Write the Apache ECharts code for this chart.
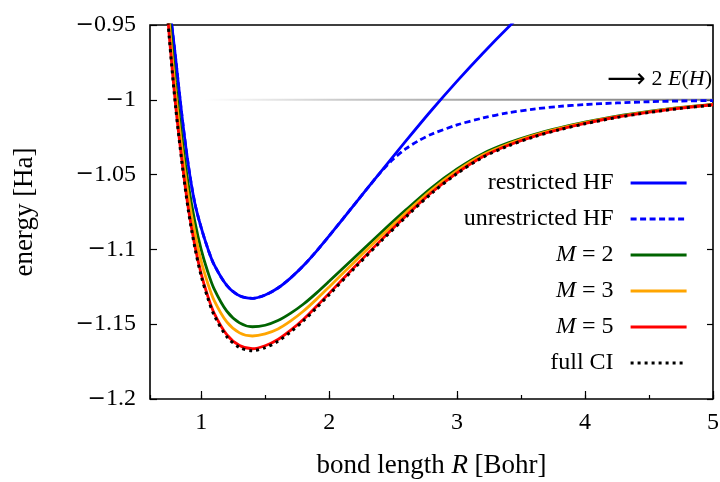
<!DOCTYPE html>
<html><head><meta charset="utf-8">
<script src="https://cdn.jsdelivr.net/npm/echarts@6/dist/echarts.min.js"></script>
<style>html,body{margin:0;padding:0;background:#fff}#c{width:720px;height:482px}</style>
</head><body><div id="c"></div>
<script>
// bond length R [Bohr]
const R = [0.70,0.75,0.80,0.85,0.90,0.95,1.00,1.05,1.10,1.20,1.30,1.40,1.50,1.60,1.70,1.80,1.90,2.00,2.20,2.40,2.60,2.80,3.00,3.20,3.40,3.60,3.80,4.00,4.25,4.50,4.75,5.00];
// energies [Ha]
const eRHF = [-0.8810,-0.9340,-0.9720,-1.0110,-1.0440,-1.0690,-1.0855,-1.0990,-1.1100,-1.1240,-1.1310,-1.1327,-1.1305,-1.1258,-1.1190,-1.1108,-1.1013,-1.0910,-1.0697,-1.0485,-1.0275,-1.0070,-0.9875,-0.9690,-0.9515,-0.9350,-0.9195,null,null,null,null,null];
const rUHF = [0.70,0.75,0.80,0.85,0.90,0.95,1.00,1.05,1.10,1.20,1.30,1.40,1.50,1.60,1.70,1.80,1.90,2.00,2.20,2.30,2.40,2.50,2.60,2.70,2.80,3.00,3.20,3.40,3.60,3.80,4.00,4.25,4.50,4.75,5.00];
const eUHF = [-0.8810,-0.9340,-0.9720,-1.0110,-1.0440,-1.0690,-1.0855,-1.0990,-1.1100,-1.1240,-1.1310,-1.1327,-1.1305,-1.1258,-1.1190,-1.1108,-1.1013,-1.0910,-1.0697,-1.0591,-1.0487,-1.0397,-1.0327,-1.0273,-1.0230,-1.0168,-1.0122,-1.0087,-1.0062,-1.0044,-1.0032,-1.0021,-1.0013,-1.0008,-1.0005];
const eM2 = [-0.8860,-0.9422,-0.9886,-1.0257,-1.0571,-1.0812,-1.1002,-1.1146,-1.1262,-1.1413,-1.1491,-1.1517,-1.1507,-1.1476,-1.1426,-1.1365,-1.1292,-1.1213,-1.1052,-1.0892,-1.0736,-1.0588,-1.0462,-1.0360,-1.0288,-1.0232,-1.0187,-1.0149,-1.0109,-1.0078,-1.0051,-1.0030];
const eM3 = [-0.8920,-0.9484,-0.9951,-1.0326,-1.0644,-1.0887,-1.1079,-1.1223,-1.1339,-1.1485,-1.1558,-1.1579,-1.1565,-1.1532,-1.1478,-1.1412,-1.1334,-1.1251,-1.1082,-1.0916,-1.0755,-1.0603,-1.0474,-1.0369,-1.0295,-1.0237,-1.0191,-1.0152,-1.0112,-1.0080,-1.0053,-1.0032];
const eM5 = [-0.9002,-0.9568,-1.0036,-1.0411,-1.0729,-1.0973,-1.1164,-1.1308,-1.1424,-1.1570,-1.1643,-1.1664,-1.1644,-1.1602,-1.1540,-1.1467,-1.1382,-1.1294,-1.1116,-1.0943,-1.0777,-1.0620,-1.0488,-1.0380,-1.0304,-1.0244,-1.0197,-1.0157,-1.0115,-1.0083,-1.0055,-1.0033];
const eFCI = [-0.9010,-0.9577,-1.0046,-1.0422,-1.0741,-1.0985,-1.1177,-1.1321,-1.1437,-1.1583,-1.1656,-1.1677,-1.1657,-1.1614,-1.1551,-1.1477,-1.1392,-1.1303,-1.1124,-1.0950,-1.0783,-1.0626,-1.0493,-1.0385,-1.0308,-1.0248,-1.0200,-1.0160,-1.0118,-1.0085,-1.0057,-1.0035];
// asymptote 2E(H)
const asymR = [0.6, 5.0];
const asymE = [-1.0, -1.0];
// axes
const xMin = 0.6, xMax = 5.0;
const yMin = -1.2, yMax = -0.95, yStep = 0.05;
const names = ['restricted HF','unrestricted HF','M = 2','M = 3','M = 5','full CI'];

const FF = 'Liberation Serif';
const pairs = (xs, ys) => xs.map((x, i) => [x, ys[i]]);
const chart = echarts.init(document.getElementById('c'), null, {renderer: 'canvas'});

function yLab(v) {
  const s = (+v.toFixed(2)).toString();
  return s.startsWith('-') ? '{m|\u2212}{n|' + s.slice(1) + '}' : '{n|' + s + '}';
}
const tickStyle = {color: '#000', width: 1.2};

function lineSeries(name, data, color, width, type) {
  return {
    name, type: 'line', data, symbol: 'none', showSymbol: false,
    smooth: 0.3, clip: true, xAxisIndex: 0, yAxisIndex: 0,
    lineStyle: {color, width, type, cap: 'butt'}, itemStyle: {color},
    emphasis: {disabled: true}, z: 3
  };
}

chart.setOption({
  animation: false,
  backgroundColor: '#fff',
  grid: {left: 150, right: 7, top: 25, bottom: 83, show: true, borderColor: '#000', borderWidth: 1.6, backgroundColor: 'transparent', containLabel: false, outerBoundsMode: 'none'},
  xAxis: [{
    type: 'value', min: xMin, max: xMax, splitNumber: 4, position: 'bottom',
    axisLine: {show: false}, splitLine: {show: false},
    axisTick: {show: true, inside: true, length: 8, lineStyle: tickStyle},
    axisLabel: {showMinLabel: false, margin: 12, color: '#000', fontFamily: FF, fontSize: 24},
    name: '{n|bond length }{i|R}{n| [Bohr]}', nameLocation: 'middle', nameGap: 53,
    nameTextStyle: {color: '#000', fontFamily: FF, fontSize: 27, rich: {
      n: {fontFamily: FF, fontSize: 27, color: '#000'},
      i: {fontFamily: FF, fontSize: 27, fontStyle: 'italic', color: '#000'}}}
  }, {
    type: 'value', min: xMin, max: xMax, splitNumber: 9, position: 'bottom',
    axisLine: {show: false}, splitLine: {show: false}, axisLabel: {show: false},
    axisTick: {show: true, inside: true, length: 4, lineStyle: tickStyle}
  }],
  yAxis: [{
    type: 'value', min: yMin, max: yMax, interval: yStep, position: 'left',
    axisLine: {show: false}, splitLine: {show: false},
    axisTick: {show: true, inside: true, length: 7, lineStyle: tickStyle},
    axisLabel: {margin: 14, formatter: yLab, color: '#000', rich: {
      m: {fontFamily: 'DejaVu Serif', fontSize: 22, color: '#000'},
      n: {fontFamily: FF, fontSize: 24, color: '#000'}}},
    name: 'energy [Ha]', nameLocation: 'middle', nameGap: 112, nameRotate: 90,
    nameTextStyle: {color: '#000', fontFamily: FF, fontSize: 27}
  }, {
    type: 'value', min: yMin, max: yMax, interval: yStep, position: 'right',
    axisLine: {show: false}, splitLine: {show: false}, axisLabel: {show: false},
    axisTick: {show: true, inside: true, length: 6, lineStyle: tickStyle}
  }],
  legend: {
    data: names, orient: 'vertical', align: 'right', right: 32, top: 171,
    itemWidth: 56, itemHeight: 20, itemGap: 12, padding: 0, selectedMode: false,
    itemStyle: {opacity: 0},
    lineStyle: {width: 2.8},
    formatter: n => n.startsWith('M') ? '{i|M}{n| = ' + n.slice(4) + '}' : '{n|' + n + '}',
    textStyle: {color: '#000', fontFamily: FF, fontSize: 24, padding: [0, 12, 0, 0], rich: {
      n: {fontFamily: FF, fontSize: 24, color: '#000', lineHeight: 20},
      i: {fontFamily: FF, fontSize: 24, color: '#000', fontStyle: 'italic', lineHeight: 20}}}
  },
  graphic: [{
    type: 'text', right: 8, top: 66, silent: true,
    style: {
      text: '{a|\u27F6}{n| 2 }{i|E}{n|(}{i|H}{n|)}',
      rich: {
        a: {fontFamily: 'DejaVu Sans', fontSize: 27, color: '#000'},
        n: {fontFamily: FF, fontSize: 22, color: '#000'},
        i: {fontFamily: FF, fontSize: 22, color: '#000', fontStyle: 'italic'}
      }
    }
  }],
  series: [
    {
      type: 'line', data: pairs(asymR, asymE), symbol: 'none', silent: true, z: 1,
      lineStyle: {width: 2, color: {type: 'linear', x: 0, y: 0, x2: 1, y2: 0, colorStops: [
        {offset: 0, color: 'rgba(120,120,120,0)'},
        {offset: 0.1, color: 'rgba(120,120,120,0)'},
        {offset: 0.35, color: 'rgba(120,120,120,0.4)'},
        {offset: 0.6, color: 'rgba(120,120,120,0.7)'},
        {offset: 1, color: 'rgba(110,110,110,0.9)'}]}}
    },
    lineSeries('restricted HF', pairs(R, eRHF), '#0000ff', 2.8, 'solid'),
    lineSeries('unrestricted HF', pairs(rUHF, eUHF), '#0000ff', 2.8, [6, 3.5]),
    lineSeries('M = 2', pairs(R, eM2), '#006400', 2.8, 'solid'),
    lineSeries('M = 3', pairs(R, eM3), '#ffa500', 2.8, 'solid'),
    lineSeries('M = 5', pairs(R, eM5), '#ff0000', 2.8, 'solid'),
    lineSeries('full CI', pairs(R, eFCI), '#000000', 3, [3, 4])
  ]
});
</script></body></html>
